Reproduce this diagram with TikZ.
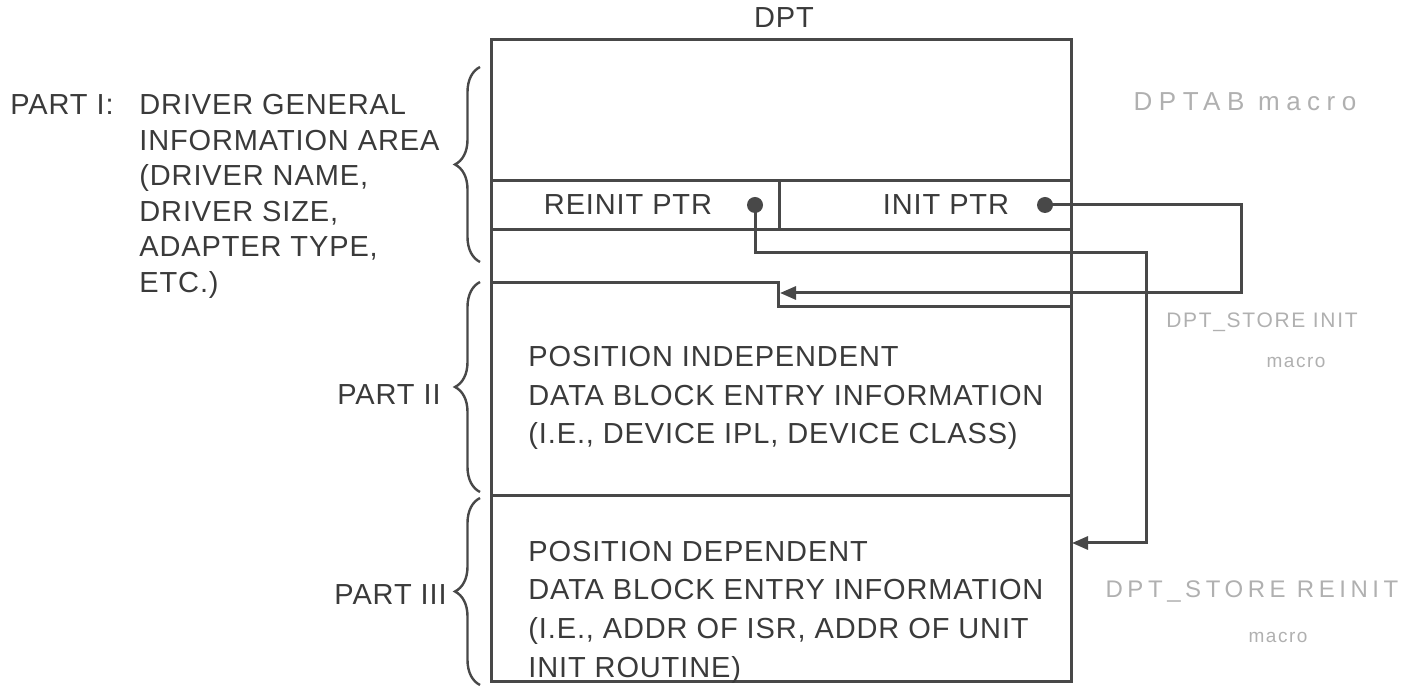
\documentclass[tikz,border=0pt]{standalone}
\usepackage{fontspec}
\setmainfont{Liberation Sans}
\newfontfamily\labelfont{Liberation Sans}[LetterSpace=3]
\newfontfamily\notefontA{Liberation Sans}[LetterSpace=25]
\newfontfamily\notefontB{Liberation Sans}[LetterSpace=8]
\newfontfamily\notefontC{Liberation Sans}[LetterSpace=19]
\usetikzlibrary{arrows.meta,decorations.pathreplacing}
\definecolor{ink}{HTML}{484848}
\definecolor{textink}{HTML}{3A3A3A}
\definecolor{pencil}{HTML}{B0B0B0}
\begin{document}
\begin{tikzpicture}[x=0.5pt,y=-0.5pt,
  rule/.style={draw=ink,line width=1.5pt},
  conn/.style={draw=ink,line width=1.5pt,-{Triangle[length=8pt,width=6.5pt]}},
  txt/.style={anchor=base west,inner sep=0pt,text=textink,font=\labelfont\fontsize{14.5}{17}\selectfont},
  ctxt/.style={txt,anchor=base},
  rtxt/.style={txt,anchor=base east},
  dotnode/.style={circle,fill=ink,inner sep=0pt,minimum size=8pt},
  curly/.style={draw=ink,line width=1.2pt,decorate,decoration={brace,amplitude=12.5pt}},
  note/.style={anchor=center,inner sep=0pt,text=pencil}
]
\useasboundingbox (0,0) rectangle (1418,688);

% title
\node[ctxt] (dpt) at (784,28) {DPT};

% main box structure
\draw[rule] (491,40) rectangle (1071,682);
\draw[rule] (491,181) -- (1071,181);
\draw[rule] (491,230) -- (1071,230);
\draw[rule] (779,181) -- (779,230);
\draw[rule] (491,283) -- (778,283) -- (778,307) -- (1071,307);
\draw[rule] (491,496) -- (1071,496);

% pointer fields
\node[ctxt] (reinit) at (628,215) {REINIT PTR};
\node[ctxt] (init) at (946,215) {INIT PTR};
\coordinate (rdotc) at (755,205);
\coordinate (idotc) at (1045,205);
\coordinate (itip) at (780,293);
\coordinate (rtip) at (1072,543);

\draw[conn] (idotc) -- (1241,205) |- (itip);
\draw[conn] (rdotc) |- (1146,253) |- (rtip);
\node[dotnode] (rdot) at (rdotc) {};
\node[dotnode] (idot) at (idotc) {};

% part II text
\node[txt] (p2a) at (528,367) {POSITION INDEPENDENT};
\node[txt] (p2b) at (528,406) {DATA BLOCK ENTRY INFORMATION};
\node[txt] (p2c) at (528,444) {(I.E., DEVICE IPL, DEVICE CLASS)};

% part III text
\node[txt] (p3a) at (528,562) {POSITION DEPENDENT};
\node[txt] (p3b) at (528,600) {DATA BLOCK ENTRY INFORMATION};
\node[txt] (p3c) at (528,639) {(I.E., ADDR OF ISR, ADDR OF UNIT};
\node[txt] (p3d) at (528,677) {INIT ROUTINE)};

% left labels
\node[txt] (part1) at (10,115) {PART I:};
\node[txt] (l1) at (139,115) {DRIVER GENERAL};
\node[txt] (l2) at (139,150.5) {INFORMATION AREA};
\node[txt] (l3) at (139,186) {(DRIVER NAME,};
\node[txt] (l4) at (139,221.5) {DRIVER SIZE,};
\node[txt] (l5) at (139,257) {ADAPTER TYPE,};
\node[txt] (l6) at (139,292.5) {ETC.)};
\node[rtxt] (part2) at (441,405) {PART II};
\node[rtxt] (part3) at (447,605) {PART III};

% braces
\draw[curly] (480,262) -- (480,67);
\draw[curly] (480,492) -- (480,282);
\draw[curly] (480,685) -- (480,498);

% pencil notes
\node[note,font=\notefontA\fontsize{13}{15}\selectfont] (n1) at (1245,102) {DPTAB macro};
\node[note,font=\notefontB\fontsize{10.5}{12}\selectfont] (n2) at (1262,322) {DPT\_STORE INIT};
\node[note,font=\notefontB\fontsize{9.5}{11}\selectfont] (n2m) at (1296,362) {macro};
\node[note,font=\notefontC\fontsize{12}{14}\selectfont] (n3) at (1252,592) {DPT\_STORE REINIT};
\node[note,font=\notefontB\fontsize{9.5}{11}\selectfont] (n3m) at (1278,637) {macro};
\end{tikzpicture}
\end{document}
